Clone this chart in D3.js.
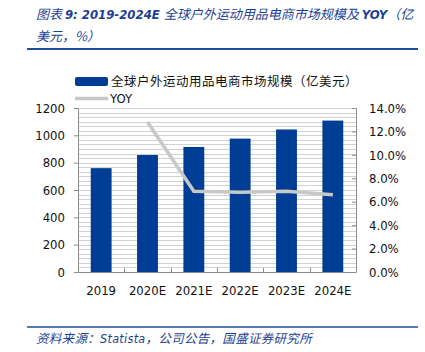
<!DOCTYPE html>
<html>
<head>
<meta charset="utf-8">
<script src="https://cdn.jsdelivr.net/npm/d3@7/dist/d3.min.js"></script>
<style>
  body { margin: 0; background: #fff; }
</style>
</head>
<body>
<div id="chart"></div>
<script>
const years = ["2019", "2020E", "2021E", "2022E", "2023E", "2024E"];
const marketSize = [760, 856, 915, 976, 1043, 1108];
const yoy = [null, 12.8, 6.9, 6.8, 6.9, 6.6];
const leftTicks = [0, 200, 400, 600, 800, 1000, 1200];
const rightTicks = [0, 2, 4, 6, 8, 10, 12, 14];

const W = 425, H = 352;
const plot = { left: 78, right: 356, top: 108, bottom: 272 };
const latin = "Tahoma, 'DejaVu Sans Condensed', 'Liberation Sans', sans-serif";
const cjk = "'Noto Sans CJK SC', sans-serif";
const navy = "#1e3f91";

const svg = d3.select("#chart").append("svg")
    .attr("width", W)
    .attr("height", H);

// title
const title = svg.append("text")
    .attr("x", 36).attr("y", 19)
    .attr("fill", navy)
    .style("font-style", "italic")
    .style("font-size", "13px");
title.append("tspan").style("font-family", cjk).text("图表 ");
title.append("tspan").style("font-family", latin).style("font-weight", "bold").text("9: 2019-2024E ");
title.append("tspan").style("font-family", cjk).text("全球户外运动用品电商市场规模及 ");
title.append("tspan").style("font-family", latin).style("font-weight", "bold").text("YOY");
title.append("tspan").style("font-family", cjk).text("（亿");
svg.append("text")
    .attr("x", 36).attr("y", 41)
    .attr("fill", navy)
    .style("font-style", "italic")
    .style("font-size", "13px")
    .style("font-family", cjk)
    .text("美元，%）");

svg.append("line")
    .attr("x1", 27).attr("x2", 418).attr("y1", 49).attr("y2", 49)
    .attr("stroke", "#1f4e9c").attr("stroke-width", 2);

// scales
const x = d3.scaleBand().domain(years).range([plot.left, plot.right]).paddingInner(0.55).paddingOuter(0.275);
const xBand = d3.scaleBand().domain(years).range([plot.left, plot.right]);
const yL = d3.scaleLinear().domain([0, 1200]).range([plot.bottom, plot.top]);
const yR = d3.scaleLinear().domain([0, 14]).range([plot.bottom, plot.top]);

// striped grid
svg.append("g")
    .selectAll("line")
    .data(d3.range(0, 1200.01, 200 / 6))
    .join("line")
    .attr("x1", plot.left).attr("x2", plot.right)
    .attr("y1", d => Math.round(yL(d)) + 0.5).attr("y2", d => Math.round(yL(d)) + 0.5)
    .attr("stroke", "#d2d2d2");

// bars
svg.append("g")
    .selectAll("rect")
    .data(years)
    .join("rect")
    .attr("x", d => x(d))
    .attr("width", x.bandwidth())
    .attr("y", (d, i) => yL(marketSize[i]))
    .attr("height", (d, i) => plot.bottom - yL(marketSize[i]))
    .attr("fill", "#003d94");

// axes
const axisColor = "#8c8c8c";
const gL = svg.append("g")
    .attr("transform", `translate(${plot.left},0)`)
    .call(d3.axisLeft(yL).tickValues(leftTicks).tickSize(4).tickPadding(9).tickFormat(d => String(d)));
const gR = svg.append("g")
    .attr("transform", `translate(${plot.right},0)`)
    .call(d3.axisRight(yR).tickValues(rightTicks).tickSize(-4).tickPadding(13).tickFormat(d => d.toFixed(1) + "%"));
[gL, gR].forEach(g => {
    g.select(".domain").attr("stroke", axisColor);
    g.selectAll(".tick line").attr("stroke", axisColor);
    g.selectAll(".tick text")
        .attr("fill", "#111")
        .style("font-family", latin)
        .style("font-size", "13px");
});

svg.append("line")
    .attr("x1", plot.left).attr("x2", plot.right)
    .attr("y1", plot.bottom + 0.5).attr("y2", plot.bottom + 0.5)
    .attr("stroke", axisColor);
svg.append("g")
    .selectAll("line")
    .data(years.slice(1))
    .join("line")
    .attr("x1", d => Math.round(xBand(d)) + 0.5).attr("x2", d => Math.round(xBand(d)) + 0.5)
    .attr("y1", plot.bottom).attr("y2", plot.bottom - 4)
    .attr("stroke", axisColor);

svg.append("g")
    .selectAll("text")
    .data(years)
    .join("text")
    .attr("x", d => xBand(d) + xBand.bandwidth() / 2)
    .attr("y", 295)
    .attr("text-anchor", "middle")
    .attr("fill", "#111")
    .style("font-family", latin)
    .style("font-size", "13px")
    .text(d => d);

// YOY line
const line = d3.line()
    .defined(d => d[1] != null)
    .x(d => xBand(d[0]) + xBand.bandwidth() / 2)
    .y(d => yR(d[1]));
svg.append("path")
    .datum(years.map((d, i) => [d, yoy[i]]))
    .attr("d", line)
    .attr("fill", "none")
    .attr("stroke", "#c8c8c8")
    .attr("stroke-width", 3.5);

// legend
svg.append("rect")
    .attr("x", 75).attr("y", 77).attr("width", 33).attr("height", 9).attr("rx", 2)
    .attr("fill", "#003d94");
svg.append("text")
    .attr("x", 111).attr("y", 86)
    .attr("fill", "#111")
    .style("font-family", cjk)
    .style("font-size", "12.5px")
    .style("letter-spacing", "0.5px")
    .text("全球户外运动用品电商市场规模（亿美元）");
svg.append("line")
    .attr("x1", 75).attr("x2", 108).attr("y1", 98.5).attr("y2", 98.5)
    .attr("stroke", "#c8c8c8").attr("stroke-width", 3.5);
svg.append("text")
    .attr("x", 110).attr("y", 103)
    .attr("fill", "#111")
    .style("font-family", latin)
    .style("font-size", "13px")
    .text("YOY");

// source
svg.append("line")
    .attr("x1", 27).attr("x2", 418).attr("y1", 327).attr("y2", 327)
    .attr("stroke", "#1f4e9c").attr("stroke-width", 1.5);
const src = svg.append("text")
    .attr("x", 36).attr("y", 343)
    .attr("fill", navy)
    .style("font-style", "italic")
    .style("font-size", "12.5px")
    .style("letter-spacing", "0.3px");
src.append("tspan").style("font-family", cjk).text("资料来源：");
src.append("tspan").style("font-family", latin).text("Statista");
src.append("tspan").style("font-family", cjk).text("，公司公告，国盛证券研究所");
</script>
</body>
</html>
